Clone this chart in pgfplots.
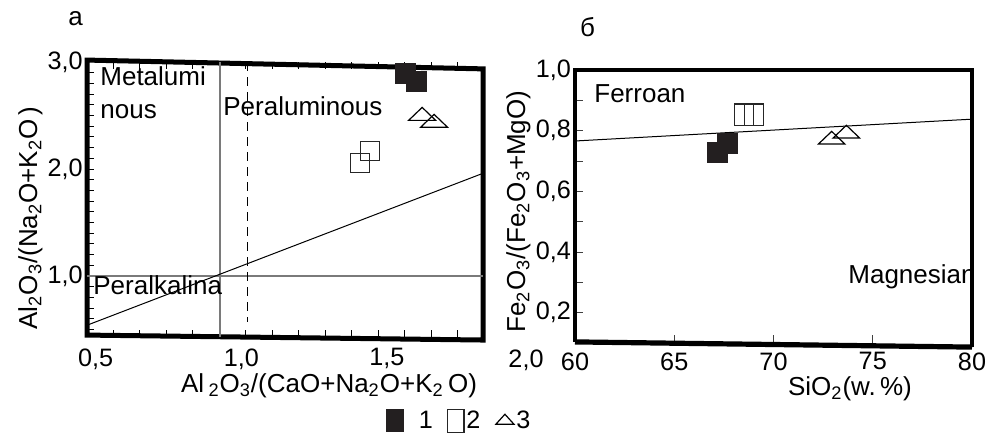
\documentclass[border=0pt]{standalone}
\usepackage{pgfplots}
\pgfplotsset{compat=1.18}
\usepackage{fontspec}
\setmainfont{Liberation Sans}
\definecolor{sqfill}{HTML}{231F20}
\definecolor{refgray}{HTML}{7A7A7A}
\newcommand{\tickfont}{\fontsize{12.6}{14}\selectfont}
\newcommand{\regfont}{\fontsize{13}{15}\selectfont}
\newcommand{\labfont}{\fontsize{13}{15}\selectfont}
\pgfplotsset{
  legA/.style={legend image code/.code={\draw[##1, only marks, mark options={xscale=0.85, yscale=1.1}] plot coordinates {(0pt,0pt)};}},
  legB/.style={legend image code/.code={\draw[##1, only marks, mark options={xscale=0.85, yscale=1.2}] plot coordinates {(0pt,0pt)};}},
  legC/.style={legend image code/.code={\draw[##1, only marks, mark options={xscale=1.3, yscale=0.83}] plot coordinates {(0pt,0pt)};}},
}
\begin{document}
\begin{tikzpicture}
\path[use as bounding box] (0,0) rectangle (495pt,218pt);
% ---------------- panel a ----------------
\begin{axis}[
  at={(43.5pt,49.5pt)}, anchor=south west,
  scale only axis, width=198pt, height=137.5pt,
  xmin=0.47, xmax=1.83, ymin=0.43, ymax=3.0,
  axis line style={draw=none},
  clip=false,
  xtick={0.5,1,1.5}, xticklabels={{0,5},{1,0},{1,5}},
  ytick={1,2,3}, yticklabels={{1,0},{2,0},{3,0}},
  minor xtick={0.56,0.651,0.742,0.833,0.924,1.015,1.106,1.197,1.288,1.379,1.47,1.561,1.652,1.743},
  minor ytick={0.5,0.6,0.7,0.8,0.9,1.0,1.1,1.2,1.3,1.4,1.5,1.6,1.7,1.8,1.9,2.0,2.1,2.2,2.3,2.4,2.5,2.6,2.7,2.8,2.9},
  major tick length=0pt, minor tick length=3.5pt,
  ytick pos=left,
  tick style={black, line width=0.5pt},
  ticklabel style={font=\tickfont},
  xticklabel style={inner sep=0pt, yshift=-5.5pt},
  yticklabel style={inner sep=0pt, xshift=-2pt},
  legend columns=3,
  legend style={at={(0.939,-0.305)}, anchor=center, draw=none, fill=none,
    font=\tickfont, column sep=7.5pt, inner sep=0pt, nodes={inner sep=0pt}},
]
\draw[line width=2.5pt, line join=miter] (rel axis cs:0,1.007) -- (rel axis cs:1,0.975) -- (rel axis cs:1,-0.011) -- (rel axis cs:0,0.007) -- cycle;
\addplot[refgray, line width=0.6pt, forget plot] coordinates {(0.47,1) (1.83,1)};
\addplot[refgray, line width=0.6pt, forget plot] coordinates {(0.927,0.43) (0.927,3.0)};
\addplot[black, line width=0.5pt, forget plot] coordinates {(0.47,0.54) (1.83,1.96)};
\addplot[black, line width=0.5pt, dash pattern=on 4.5pt off 3pt, forget plot] coordinates {(1.02,3.0) (1.02,0.57)};
\addplot[only marks, mark=square*, mark size=5pt, color=sqfill, legA]
  coordinates {(1.563,2.897) (1.600,2.822)};
\addlegendentry{1}
\addplot[only marks, mark=square, mark size=4.75pt, color=black!85, line width=0.6pt, legB]
  coordinates {(1.408,2.056) (1.443,2.168)};
\addlegendentry{\hspace{-6.5pt}2}
\addplot[only marks, mark=triangle, mark size=4pt, mark options={xscale=1.95, yscale=1.08}, color=black, line width=0.6pt, legC]
  coordinates {(1.621,2.495) (1.662,2.43)};
\addlegendentry{\hspace{-6.5pt}3}
\end{axis}
% ---------------- panel b ----------------
\begin{axis}[
  at={(287.5pt,46.5pt)}, anchor=south west,
  scale only axis, width=198.5pt, height=136.5pt,
  xmin=60, xmax=80, ymin=0.1, ymax=1.0,
  axis line style={draw=none},
  clip=false,
  xtick={60,65,70,75,80}, xticklabels={60,65,70,75,80},
  ytick={0.2,0.4,0.6,0.8,1.0}, yticklabels={{0,2},{0,4},{0,6},{0,8},{1,0}},
  minor ytick={0.3,0.5,0.7,0.9},
  major tick length=4pt, minor tick length=4pt,
  xtick pos=left, ytick pos=left,
  tick style={black!75, line width=0.5pt},
  ticklabel style={font=\tickfont},
  xticklabel style={inner sep=0pt, yshift=-4.5pt},
  yticklabel style={inner sep=0pt, xshift=-1.8pt},
]
\draw[line width=1.8pt, line join=miter] (rel axis cs:0,0.004) -- (rel axis cs:0,1) -- (rel axis cs:1,1) -- (rel axis cs:1,-0.015);
\draw[line width=2.6pt] (rel axis cs:0,0.004) -- (rel axis cs:1,-0.015);
\addplot[black, line width=0.5pt] coordinates {(60,0.766) (80,0.838)};
\addplot[only marks, mark=square*, mark size=5pt, color=sqfill]
  coordinates {(67.15,0.730) (67.7,0.758)};
\addplot[only marks, mark=square, mark size=4.75pt, mark options={yscale=1.12}, color=black!85, line width=0.6pt]
  coordinates {(68.5,0.853) (69.0,0.853)};
\addplot[only marks, mark=triangle, mark size=4pt, mark options={xscale=1.9, yscale=1.05}, color=black, line width=0.6pt]
  coordinates {(72.93,0.770) (73.67,0.790)};
\end{axis}
% ---------------- texts ----------------
\node[anchor=base west, inner sep=0pt, font=\regfont] at (50pt,175.5pt) {Metalumi};
\node[anchor=base west, inner sep=0pt, font=\regfont] at (50pt,159pt) {nous};
\node[anchor=base west, inner sep=0pt, font=\regfont] at (111.5pt,160.5pt) {Peraluminous};
\node[anchor=base west, inner sep=0pt, font=\regfont] at (46.5pt,71pt) {Peralkalina};
\node[anchor=base west, inner sep=0pt, font=\regfont] at (297pt,167pt) {Ferroan};
\node[anchor=base west, inner sep=0pt, font=\regfont] at (424pt,76.5pt) {Magnesian};
\node[anchor=base, inner sep=0pt, font=\regfont] at (37.75pt,205.5pt) {а};
\node[anchor=base, inner sep=0pt, font=\regfont] at (293.75pt,200pt) {б};
\node[anchor=base, inner sep=0pt, font=\labfont] at (164.5pt,22pt) {Al\,\textsubscript{2}O\textsubscript{3}/(CaO+Na\textsubscript{2}O+K\textsubscript{2}\,O)};
\node[anchor=base, inner sep=0pt, font=\labfont] at (425pt,20.5pt) {SiO\textsubscript{2}(w.\,\%)};
\node[anchor=base, inner sep=0pt, rotate=90, font=\labfont] at (18.5pt,109pt) {Al\textsubscript{2}O\textsubscript{3}/(Na\textsubscript{2}O+K\textsubscript{2}O\,)};
\node[anchor=base, inner sep=0pt, rotate=90, font=\labfont] at (262.5pt,112.25pt) {Fe\textsubscript{2}O\textsubscript{3}/(Fe\textsubscript{2}O\textsubscript{3}+MgO)};
\node[anchor=base, inner sep=0pt, font=\tickfont] at (263pt,34.5pt) {2,0};
\end{tikzpicture}
\end{document}
